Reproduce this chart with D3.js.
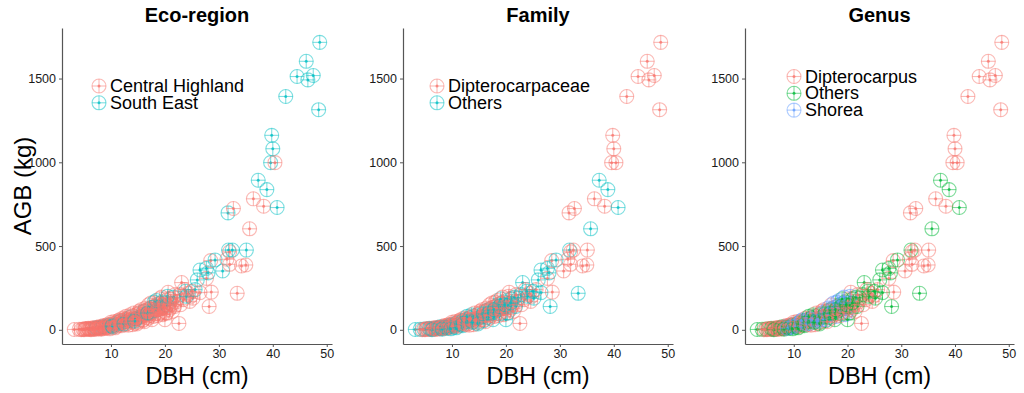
<!DOCTYPE html>
<html>
<head>
<meta charset="utf-8">
<script src="https://cdn.jsdelivr.net/npm/d3@7"></script>
<style>
  body { margin: 0; background: #fff; }
  svg { font-family: Arial, "Liberation Sans", sans-serif; }
</style>
</head>
<body>
<svg width="1024" height="393"></svg>
<script>
// tree measurements, one entry per tree
const dbh = [
  3.2, 4.1, 4.8, 5.2, 5.5, 5.9, 6.2, 6.5, 6.8, 7.0, 7.3, 7.5, 7.7, 7.9, 8.1, 8.3, 8.5, 8.7, 8.9, 9.1,
  9.3, 9.5, 9.7, 9.9, 10.1, 10.3, 10.5, 10.7, 10.9, 11.1, 11.3, 11.5, 11.7, 11.9, 12.1, 12.3, 12.5, 12.7, 12.9, 13.1,
  13.3, 13.5, 13.7, 13.9, 14.1, 14.3, 14.5, 14.7, 14.9, 15.1, 15.3, 15.5, 15.7, 15.9, 16.1, 16.3, 16.5, 16.7, 16.9, 17.1,
  17.3, 17.5, 17.7, 17.9, 18.1, 18.3, 18.5, 18.7, 18.9, 19.1, 19.3, 19.5, 19.7, 19.9, 20.0, 20.2, 20.4, 20.6, 20.8, 21.0,
  21.3, 21.6, 22.0, 22.6, 22.8, 23.1, 23.4, 23.8, 24.3, 24.8, 25.2, 25.6,
  5.0, 5.8, 6.0, 6.6, 7.2, 7.8, 8.0, 8.6, 9.0, 9.6, 10.0, 10.4, 11.0, 11.6, 12.0, 12.6, 13.0, 13.6, 14.0, 14.6,
  15.0, 15.6, 16.0, 16.6, 17.0, 17.6, 18.0, 18.6, 19.0, 19.6, 20.3, 21.0, 21.8,
  4.5, 5.3, 6.3, 6.9, 7.4, 8.2, 8.8, 9.4, 9.8, 10.2, 10.6, 10.8, 11.2, 11.4, 11.8, 12.2, 12.4, 12.8, 13.2, 13.4,
  13.8, 14.2, 14.4, 14.8, 15.2, 15.4, 15.8, 16.2, 16.4, 16.8, 17.2, 17.4, 17.8, 18.2, 18.4, 18.8, 19.2, 19.4, 19.8, 20.1,
  20.5, 20.9, 21.4, 21.9, 22.3, 22.9, 23.6, 24.0, 24.6, 25.0,
  26.0, 26.5, 26.5, 27.7, 27.7, 28.0, 28.2, 28.5, 28.6, 29.3, 30.7, 31.5, 31.7, 31.8, 32.0, 32.0, 32.7, 32.5, 33.4, 34.2,
  35.0, 35.1, 35.7, 36.4, 37.3, 38.3, 38.9, 39.6, 40.0, 39.8, 40.4, 40.8, 42.4, 44.5, 46.2, 46.5, 47.5, 48.5, 48.7
];
const agb = [
  2, 3, 4, 3, 6, 4, 8, 5, 10, 7, 12, 9, 14, 6, 16, 11, 19, 13, 22, 15,
  25, 18, 28, 21, 33, 25, 38, 29, 42, 32, 46, 36, 51, 40, 56, 44, 61, 48, 66, 53,
  72, 57, 78, 50, 84, 62, 40, 90, 70, 97, 76, 104, 82, 55, 110, 88, 117, 94, 70, 125,
  100, 133, 107, 80, 141, 114, 150, 121, 95, 158, 129, 167, 137, 110, 60, 176, 145, 224, 120, 185,
  155, 195, 165, 38, 210, 282, 180, 230, 218, 200, 189, 240,
  1, 9, 2, 12, 3, 18, 8, 25, 10, 12, 45, 16, 20, 60, 25, 30, 38, 90, 30, 65,
  45, 120, 60, 75, 150, 60, 165, 85, 185, 90, 100, 130, 140,
  1, 8, 1, 4, 15, 4, 9, 32, 6, 22, 50, 12, 26, 55, 30, 70, 35, 80, 28, 62,
  45, 100, 52, 35, 110, 60, 95, 48, 130, 100, 85, 160, 120, 95, 175, 140, 105, 195, 150, 130,
  200, 160, 110, 210, 190, 150, 240, 200, 170, 230,
  298, 357, 222, 367, 307, 340, 139, 413, 225, 417, 351, 421, 698, 476, 466, 391, 724, 476, 218, 381,
  387, 476, 603, 782, 893, 738, 837, 998, 1081, 1161, 998, 730, 1393, 1512, 1603, 1492, 1518, 1314, 1716
];
// C = Central Highland, S = South East
const ecoRegion = [
  "C","C","C","C","C","C","C","C","C","C","S","C","C","C","C","C","S","C","C","C",
  "C","C","S","C","C","C","C","S","C","C","C","C","S","C","C","C","C","S","C","C",
  "C","C","S","C","C","C","C","C","S","C","C","C","C","C","S","C","C","C","C","C",
  "S","C","C","C","C","S","C","C","C","C","C","S","C","C","C","C","S","C","C","C",
  "C","S","C","C","C","C","C","S","C","C","C","S",
  "C","C","C","C","C","C","C","C","C","C","C","S","C","C","C","C","C","C","C","S",
  "C","C","C","C","C","C","S","C","C","C","C","C","C",
  "C","C","C","C","C","C","C","C","C","S","C","C","C","C","C","C","S","C","C","C",
  "C","C","S","C","C","C","C","C","C","S","C","C","C","C","S","C","C","C","C","C",
  "S","C","C","C","C","C","C","S","C","C",
  "S","S","C","S","C","S","C","C","C","S","S","C","S","S","C","C","C","S","C","C",
  "C","S","C","C","S","C","S","S","S","S","C","S","S","S","S","S","S","S","S"
];
// D = Dipterocarpaceae, O = Others
const family = [
  "O","O","O","D","D","D","D","O","D","D","O","O","D","D","D","O","D","D","D","O",
  "D","D","O","D","D","O","D","D","O","D","D","O","D","D","O","D","D","O","D","D",
  "O","D","D","O","D","D","D","O","D","D","O","D","D","O","D","D","O","D","D","O",
  "D","D","O","D","D","O","D","D","O","D","D","O","D","D","O","D","O","D","D","O",
  "D","O","D","D","O","O","D","O","D","D","O","D",
  "D","O","D","D","D","O","D","D","O","D","D","O","D","D","O","D","D","O","D","D",
  "O","D","D","O","D","O","D","D","O","D","O","D","O",
  "D","D","O","D","D","O","D","D","O","D","D","O","D","D","O","D","D","O","D","D",
  "O","D","D","O","D","D","O","D","D","O","D","D","O","D","D","O","D","D","O","D",
  "D","O","D","D","O","D","D","O","D","O",
  "O","O","O","O","D","O","O","D","D","O","D","D","D","O","D","D","D","D","O","D",
  "D","D","O","D","O","D","O","D","D","D","D","O","D","D","D","D","D","D","D"
];
// Dp = Dipterocarpus, O = Others, Sh = Shorea
const genus = [
  "O","O","O","Dp","Dp","Dp","Dp","O","Dp","Dp","O","O","Dp","Dp","Sh","O","Dp","Dp","Sh","O",
  "Dp","Sh","O","Dp","Sh","O","Dp","Sh","O","Dp","Sh","O","Dp","Dp","O","Sh","Dp","O","Sh","Dp",
  "O","Dp","Sh","O","Dp","Sh","Dp","O","Sh","Dp","O","Sh","Dp","O","Sh","Dp","O","Sh","Dp","O",
  "Sh","Dp","O","Sh","Dp","O","Sh","Dp","O","Sh","Dp","O","Dp","Sh","O","Dp","O","Dp","Dp","O",
  "Dp","O","Dp","Dp","O","O","Dp","O","Dp","Dp","O","Dp",
  "Dp","O","Dp","Dp","Dp","O","Dp","Dp","O","Sh","Dp","O","Dp","Sh","O","Dp","Sh","O","Dp","Sh",
  "O","Dp","Sh","O","Dp","O","Sh","Dp","O","Sh","O","Dp","O",
  "Dp","Dp","O","Dp","Dp","O","Sh","Dp","O","Sh","Dp","O","Dp","Sh","O","Dp","Sh","O","Dp","Sh",
  "O","Dp","Sh","O","Dp","Sh","O","Dp","Sh","O","Dp","Sh","O","Dp","Sh","O","Dp","Sh","O","Dp",
  "Sh","O","Dp","Dp","O","Dp","Dp","O","Dp","O",
  "O","O","O","O","Dp","O","O","Dp","Dp","O","Dp","Dp","Dp","O","Dp","Dp","Dp","Dp","O","Dp",
  "Dp","Dp","O","Dp","O","Dp","O","Dp","Dp","Dp","Dp","O","Dp","Dp","Dp","Dp","Dp","Dp","Dp"
];

const yTicks = [0, 500, 1000, 1500];
const xTicks = [10, 20, 30, 40, 50];

const panels = [
  { title: "Eco-region", group: ecoRegion, keys: ["C", "S"],
    labels: ["Central Highland", "South East"], colors: ["#F8766D", "#00BFC4"],
    left: 62, right: 332, legendX: 37, legendY: 86 },
  { title: "Family", group: family, keys: ["D", "O"],
    labels: ["Dipterocarpaceae", "Others"], colors: ["#F8766D", "#00BFC4"],
    left: 403, right: 673, legendX: 34, legendY: 86 },
  { title: "Genus", group: genus, keys: ["Dp", "O", "Sh"],
    labels: ["Dipterocarpus", "Others", "Shorea"], colors: ["#F8766D", "#00BA38", "#619CFF"],
    left: 745, right: 1014, legendX: 49, legendY: 76.5 }
];

const plotTop = 28, plotBottom = 344;
const svg = d3.select("svg");

// ggplot-style 5% expansion
const xExt = d3.extent(dbh), yExt = d3.extent(agb);
const xPad = (xExt[1] - xExt[0]) * 0.05, yPad = (yExt[1] - yExt[0]) * 0.05;

const pts = dbh.map((d, i) => ({ dbh: d, agb: agb[i], i: i }));

function marker(sel, color) {
    const r = 7;
    sel.append("circle").attr("r", r)
        .attr("fill", "none").attr("stroke", color)
        .attr("stroke-width", 1.1).attr("stroke-opacity", 0.5);
    sel.append("line").attr("x1", -r).attr("x2", r)
        .attr("stroke", color).attr("stroke-width", 1.1).attr("stroke-opacity", 0.5);
    sel.append("line").attr("y1", -r).attr("y2", r)
        .attr("stroke", color).attr("stroke-width", 1.1).attr("stroke-opacity", 0.5);
    sel.append("circle").attr("r", 1.5).attr("fill", color).attr("fill-opacity", 0.75);
}

panels.forEach((p, pi) => {
    const x = d3.scaleLinear().domain([xExt[0] - xPad, xExt[1] + xPad]).range([p.left, p.right]);
    const y = d3.scaleLinear().domain([yExt[0] - yPad, yExt[1] + yPad]).range([plotBottom, plotTop]);
    const color = d3.scaleOrdinal().domain(p.keys).range(p.colors);

    const g = svg.append("g");

    // points
    g.append("g").selectAll("g")
        .data(pts)
        .enter().append("g")
        .attr("transform", d => `translate(${x(d.dbh)},${y(d.agb)})`)
        .each(function(d) { marker(d3.select(this), color(p.group[d.i])); });

    // axes
    const xAxis = g.append("g")
        .attr("transform", `translate(0,${plotBottom})`)
        .call(d3.axisBottom(x).tickValues(xTicks).tickFormat(d3.format("d"))
            .tickSize(3).tickPadding(2).tickSizeOuter(0));
    const yAxis = g.append("g")
        .attr("transform", `translate(${p.left},0)`)
        .call(d3.axisLeft(y).tickValues(yTicks).tickFormat(d3.format("d"))
            .tickSize(3).tickPadding(3).tickSizeOuter(0));
    [xAxis, yAxis].forEach(a => {
        a.select(".domain").attr("stroke", "#555").attr("stroke-width", 1.2);
        a.selectAll(".tick line").attr("stroke", "#555");
        a.selectAll(".tick text").attr("fill", "#1a1a1a")
            .attr("font-size", 12.5).attr("font-family", "Arial, 'Liberation Sans', sans-serif");
    });

    // title
    g.append("text")
        .attr("x", (p.left + p.right) / 2).attr("y", 22)
        .attr("text-anchor", "middle")
        .attr("font-size", 20).attr("font-weight", "bold")
        .text(p.title);

    g.append("text")
        .attr("x", (p.left + p.right) / 2).attr("y", 384)
        .attr("text-anchor", "middle")
        .attr("font-size", 23.5)
        .text("DBH (cm)");

    if (pi === 0) {
        g.append("text")
            .attr("transform", `translate(31,${(plotTop + plotBottom) / 2}) rotate(-90)`)
            .attr("text-anchor", "middle")
            .attr("font-size", 24)
            .text("AGB (kg)");
    }

    // legend
    const lg = g.append("g")
        .attr("transform", `translate(${p.left + p.legendX},${p.legendY})`);
    p.keys.forEach((k, j) => {
        const row = lg.append("g").attr("transform", `translate(0,${j * 16.8})`);
        marker(row, p.colors[j]);
        row.append("text")
            .attr("x", 11).attr("y", 6)
            .attr("font-size", 18)
            .text(p.labels[j]);
    });
});
</script>
</body>
</html>
